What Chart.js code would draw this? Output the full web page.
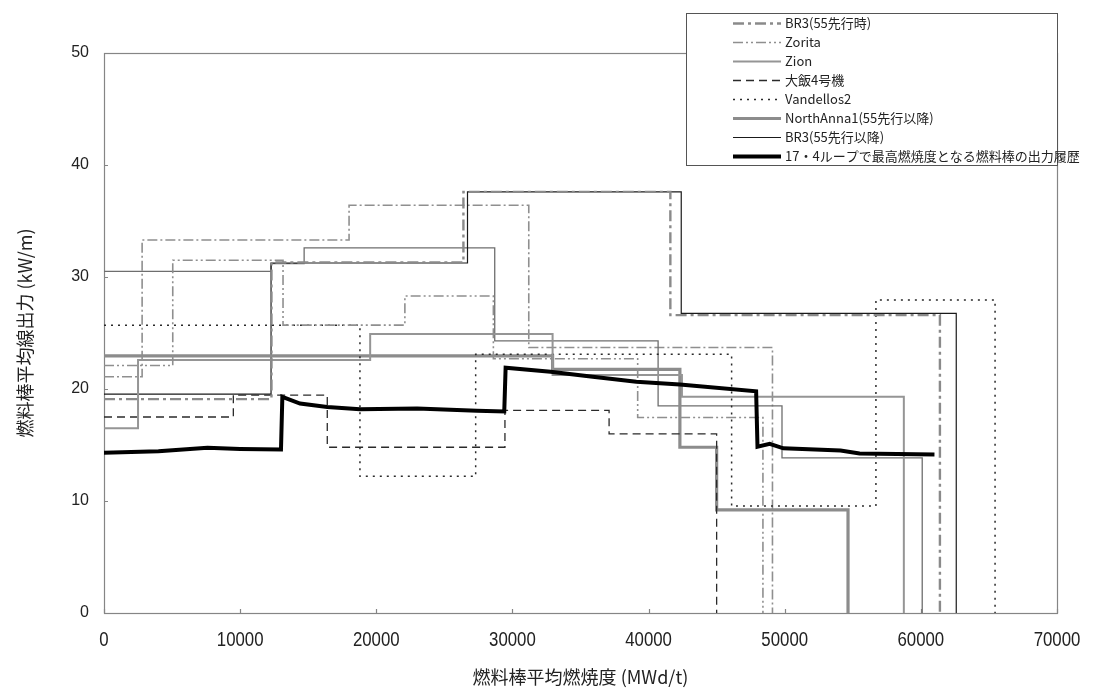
<!DOCTYPE html>
<html>
<head>
<meta charset="utf-8">
<script src="https://cdn.jsdelivr.net/npm/chart.js@4.4.0/dist/chart.umd.min.js"></script>
<style>
  body { margin: 0; background: #fff; }
  #chart { display: block; }
</style>
</head>
<body>
<canvas id="chart" width="1116" height="693"></canvas>
<script>
// 燃料棒平均燃焼度 (MWd/t) の区切りと、その区間の線出力 (kW/m)
const br3PreBurnup = [0, 12300, 26400, 41600, 61400];
const br3PrePower = [19.1, 31.3, 37.6, 26.6, 0];

const zoritaBurnup = [0, 5050, 13150, 22100, 28600, 39200, 48400];
const zoritaPower = [22.1, 31.5, 25.7, 28.3, 22.7, 17.45, 0];

const zoritaBBurnup = [0, 2800, 18000, 31200, 49100];
const zoritaBPower = [21.1, 33.3, 36.4, 23.7, 0];

const zionBurnup = [0, 2500, 19550, 32950, 42450, 58750];
const zionPower = [16.5, 22.6, 24.9, 21.25, 19.3, 0];

const ohi4Burnup = [0, 9500, 16400, 29450, 37100, 45000];
const ohi4Power = [17.5, 19.45, 14.8, 18.1, 16.0, 0];

const vandellosBurnup = [0, 18800, 27300, 46100, 56700, 65450];
const vandellosPower = [25.7, 12.2, 23.1, 9.55, 27.95, 0];

const northAnnaBurnup = [0, 32950, 42300, 45000, 54650];
const northAnnaPower = [22.95, 21.75, 14.8, 9.2, 0];

const br3PostBurnup = [0, 12270, 26700, 42400, 62600];
const br3PostPower = [19.55, 31.25, 37.6, 26.75, 0];

const br3BBurnup = [0, 12270, 14700, 28700, 40700, 49800, 60100];
const br3BPower = [30.5, 31.2, 32.6, 24.3, 18.5, 13.85, 0];

// 17・4ループの最高燃焼度燃料棒（連続した履歴）
const loopBurnup = [0, 4000, 7600, 10000, 13000, 13100, 14400, 16400, 18800, 23000, 27400, 29400,
  29500, 32800, 35900, 39100, 42300, 47900, 48000, 48900, 49900, 54100, 55500, 61000];
const loopPower = [14.3, 14.45, 14.75, 14.65, 14.6, 19.3, 18.7, 18.4, 18.2, 18.25, 18.05, 18.0,
  21.9, 21.55, 21.1, 20.65, 20.4, 19.8, 14.85, 15.1, 14.7, 14.5, 14.25, 14.15];

const xMax = 70000, xStep = 10000;
const yMax = 50, yStep = 10;

function pts(xs, ys) {
  return xs.map((x, i) => ({ x: x, y: ys[i] }));
}

const datasets = [
  { label: 'BR3(55先行時)', data: pts(br3PreBurnup, br3PrePower), stepped: true,
    borderColor: '#8a8a8a', borderWidth: 2.4, borderDash: [11, 4, 3, 4], inLegend: true },
  { label: 'Zorita', data: pts(zoritaBurnup, zoritaPower), stepped: true,
    borderColor: '#8f8f8f', borderWidth: 1.6, borderDash: [10, 3, 2, 3, 2, 3], inLegend: true },
  { label: 'Zion', data: pts(zionBurnup, zionPower), stepped: true,
    borderColor: '#959595', borderWidth: 2, inLegend: true },
  { label: '大飯4号機', data: pts(ohi4Burnup, ohi4Power), stepped: true,
    borderColor: '#2a2a2a', borderWidth: 1.3, borderDash: [8, 5], inLegend: true },
  { label: 'Vandellos2', data: pts(vandellosBurnup, vandellosPower), stepped: true,
    borderColor: '#2a2a2a', borderWidth: 1.5, borderDash: [2, 5], inLegend: true },
  { label: 'NorthAnna1(55先行以降)', data: pts(northAnnaBurnup, northAnnaPower), stepped: true,
    borderColor: '#8c8c8c', borderWidth: 3.2, inLegend: true },
  { label: 'BR3(55先行以降)', data: pts(br3PostBurnup, br3PostPower), stepped: true,
    borderColor: '#1a1a1a', borderWidth: 1.2, inLegend: true },
  { label: '17・4ループで最高燃焼度となる燃料棒の出力履歴', data: pts(loopBurnup, loopPower),
    borderColor: '#000', borderWidth: 4, order: -1, inLegend: true },
  { label: 'BR3', data: pts(br3BBurnup, br3BPower), stepped: true,
    borderColor: '#6e6e6e', borderWidth: 1.3, inLegend: false },
  { label: 'Zorita', data: pts(zoritaBBurnup, zoritaBPower), stepped: true,
    borderColor: '#8f8f8f', borderWidth: 1.6, borderDash: [10, 3, 2, 3], inLegend: false }
];

datasets.forEach(d => { d.pointRadius = 0; d.fill = false; d.tension = 0; });

// 白背景
const whiteBg = {
  id: 'whiteBg',
  beforeDraw(chart) {
    const ctx = chart.ctx;
    ctx.save();
    ctx.fillStyle = '#fff';
    ctx.fillRect(0, 0, chart.width, chart.height);
    ctx.restore();
  }
};

// プロット枠と内向きの目盛り、横軸の数値（幅を詰めた字形）
const frameTicks = {
  id: 'frameTicks',
  beforeDatasetsDraw(chart) {
    const { ctx, chartArea: a, scales } = chart;
    ctx.save();
    ctx.strokeStyle = '#858585';
    ctx.lineWidth = 1.2;
    ctx.strokeRect(a.left + 0.5, a.top + 0.5, a.right - a.left, a.bottom - a.top);
    ctx.beginPath();
    scales.x.ticks.forEach(t => {
      const px = Math.round(scales.x.getPixelForValue(t.value)) + 0.5;
      ctx.moveTo(px, a.bottom);
      ctx.lineTo(px, a.bottom - 4);
    });
    scales.y.ticks.forEach(t => {
      const py = Math.round(scales.y.getPixelForValue(t.value)) + 0.5;
      ctx.moveTo(a.left, py);
      ctx.lineTo(a.left + 4, py);
    });
    ctx.stroke();

    ctx.fillStyle = '#222';
    ctx.font = '20px "Liberation Sans", sans-serif';
    ctx.textAlign = 'center';
    ctx.textBaseline = 'middle';
    scales.x.ticks.forEach(t => {
      const px = scales.x.getPixelForValue(t.value);
      ctx.save();
      ctx.translate(px, a.bottom + 27);
      ctx.scale(0.84, 1);
      ctx.fillText(String(t.value), 0, 0);
      ctx.restore();
    });
    ctx.restore();
  }
};

// 右上の凡例ボックス
const boxLegend = {
  id: 'boxLegend',
  afterDraw(chart) {
    const ctx = chart.ctx;
    const left = 686, top = 13, w = 372, h = 153;
    ctx.save();
    ctx.fillStyle = '#fff';
    ctx.fillRect(left, top, w, h);
    ctx.strokeStyle = '#555';
    ctx.lineWidth = 1;
    ctx.setLineDash([]);
    ctx.strokeRect(left + 0.5, top + 0.5, w - 1, h - 1);
    ctx.font = '13px "Noto Sans CJK JP", sans-serif';
    ctx.textBaseline = 'middle';
    chart.data.datasets.filter(d => d.inLegend).forEach((d, i) => {
      const y = Math.round(top + 10 + i * 19) + 0.5;
      ctx.beginPath();
      ctx.strokeStyle = d.borderColor;
      ctx.lineWidth = d.borderWidth;
      ctx.setLineDash(d.borderDash || []);
      ctx.moveTo(733, y);
      ctx.lineTo(781, y);
      ctx.stroke();
      ctx.setLineDash([]);
      ctx.fillStyle = '#222';
      ctx.fillText(d.label, 785, y);
    });
    ctx.restore();
  }
};

new Chart(document.getElementById('chart').getContext('2d'), {
  type: 'line',
  data: { datasets: datasets },
  options: {
    responsive: false,
    animation: false,
    layout: { padding: { top: 53, right: 59, left: 0, bottom: 0 } },
    plugins: {
      legend: { display: false },
      tooltip: { enabled: false }
    },
    scales: {
      x: {
        type: 'linear',
        min: 0,
        max: xMax,
        grid: { display: false },
        border: { display: false },
        ticks: { stepSize: xStep, autoSkip: false, display: false },
        title: {
          display: true,
          text: '燃料棒平均燃焼度 (MWd/t)',
          color: '#222',
          font: { family: '"Noto Sans CJK JP", sans-serif', size: 18 },
          padding: { bottom: 5 }
        },
        afterFit(scale) { scale.height = 80; }
      },
      y: {
        min: 0,
        max: yMax,
        grid: { display: false },
        border: { display: false },
        ticks: {
          stepSize: yStep,
          padding: 7,
          color: '#222',
          font: { family: '"Liberation Sans", sans-serif', size: 16 }
        },
        title: {
          display: true,
          text: '燃料棒平均線出力 (kW/m)',
          color: '#222',
          font: { family: '"Noto Sans CJK JP", sans-serif', size: 18 },
          padding: { top: 14 }
        },
        afterFit(scale) { scale.width = 104; }
      }
    }
  },
  plugins: [whiteBg, frameTicks, boxLegend]
});
</script>
</body>
</html>
